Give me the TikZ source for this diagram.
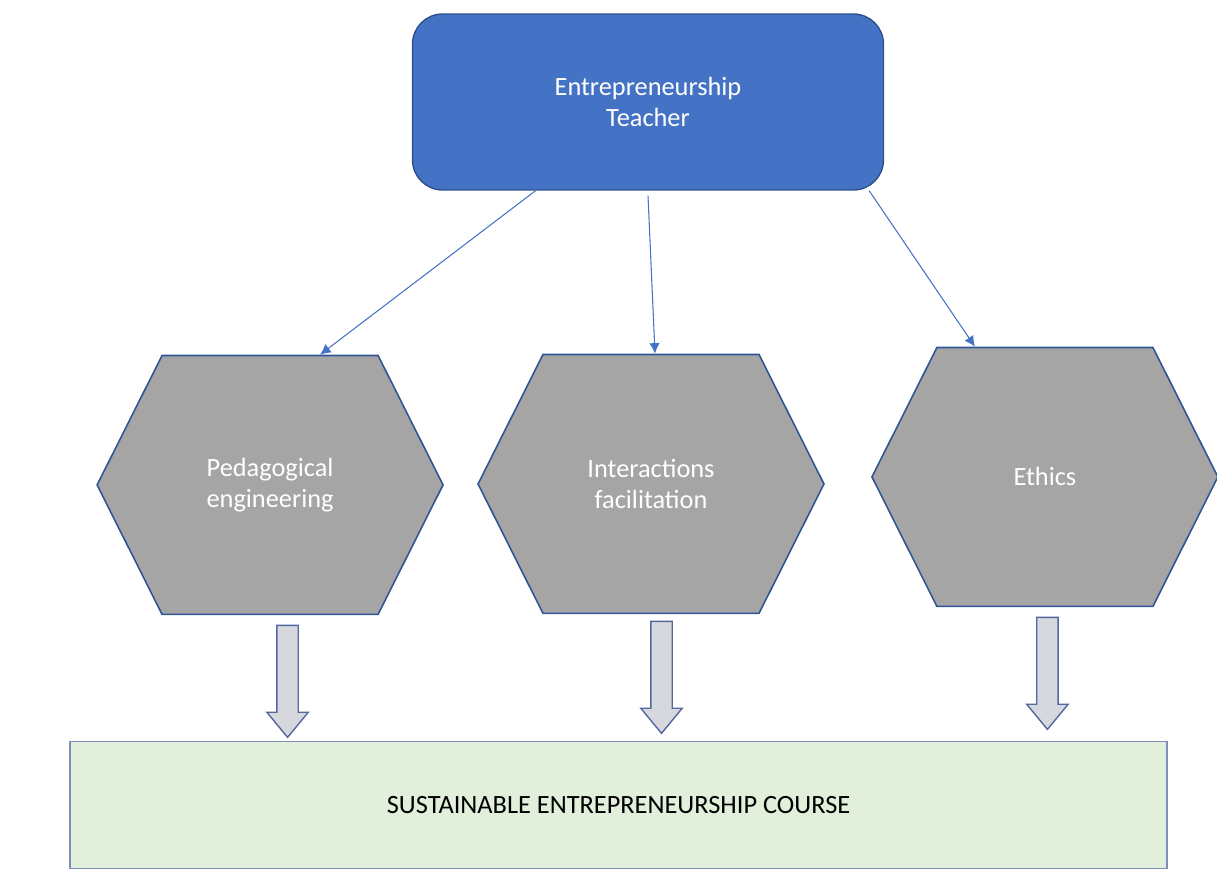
\documentclass[tikz,border=0pt]{standalone}
\usepackage{fontspec}
\setmainfont{Carlito}
\usetikzlibrary{positioning,shapes.geometric,shapes.symbols,shapes.arrows,arrows.meta}

\definecolor{teacherfill}{HTML}{4472C4}
\definecolor{teacherline}{HTML}{2F528F}
\definecolor{hexfill}{HTML}{A5A5A5}
\definecolor{hexline}{HTML}{2F5597}
\definecolor{linkblue}{HTML}{4472C4}
\definecolor{bigarrowfill}{HTML}{D6D8DE}
\definecolor{bigarrowline}{HTML}{55679F}
\definecolor{coursefill}{HTML}{E2EFDA}
\definecolor{courseline}{HTML}{7F8FBD}

\tikzset{
  teacherbox/.style={rectangle, rounded corners=0.6cm, draw=teacherline, line width=0.8pt,
    fill=teacherfill, text=white, minimum width=9.42cm, minimum height=3.52cm,
    align=center, font=\fontsize{15}{17.6}\selectfont},
  skillhex/.style={signal, signal to=east and west, signal pointer angle=126.7,
    draw=hexline, line width=0.9pt, fill=hexfill, text=white, inner sep=0pt,
    minimum width=6.92cm, minimum height=5.18cm, align=center,
    font=\fontsize{15}{18}\selectfont},
  bigarrow/.style={single arrow, rotate=-90, draw=bigarrowline, line width=0.8pt,
    fill=bigarrowfill, inner xsep=0pt, inner ysep=0.2cm, minimum width=0.82cm,
    minimum height=2.24cm, single arrow head extend=0.2cm, single arrow tip angle=79},
  coursebox/.style={rectangle, draw=courseline, line width=0.9pt, fill=coursefill,
    minimum width=21.94cm, minimum height=2.54cm, font=\fontsize{15}{17}\selectfont},
  link/.style={-{Latex[length=6pt,width=6pt]}, draw=linkblue, line width=0.6pt}
}

\begin{document}
\begin{tikzpicture}[x=0.02cm,y=-0.02cm,on grid]
   \useasboundingbox (0,0) rectangle (1217,880);

   \node[teacherbox] (teacher) at (648,102) {Entrepreneurship\\Teacher};

   \node[skillhex] (inter) [below right=7.64cm and 0.06cm of teacher] {Interactions\\facilitation};
   \node[skillhex] (peda) [left=7.62cm of inter, yshift=-0.02cm] {Pedagogical\\engineering};
   \node[skillhex] (ethics) [right=7.88cm of inter, yshift=0.14cm] {Ethics};

   \node[coursebox] (course) [below left=6.42cm and 0.65cm of inter] {SUSTAINABLE ENTREPRENEURSHIP COURSE};

   \node[bigarrow] (down1) [below right=3.8cm and 0.35cm of peda] {};
   \node[bigarrow] (down2) [below right=3.74cm and 0.21cm of inter] {};
   \node[bigarrow] (down3) [below right=3.8cm and 0.05cm of ethics] {};

   \draw[link] ([xshift=-2.25cm]teacher.south) -- ([xshift=1.0cm]peda.north);
   \draw[link] ([yshift=-0.1cm]teacher.south) -- ([xshift=0.08cm]inter.north);
   \draw[link] ([xshift=-0.3cm]teacher.south east) -- ([xshift=-1.4cm]ethics.north);
\end{tikzpicture}
\end{document}
